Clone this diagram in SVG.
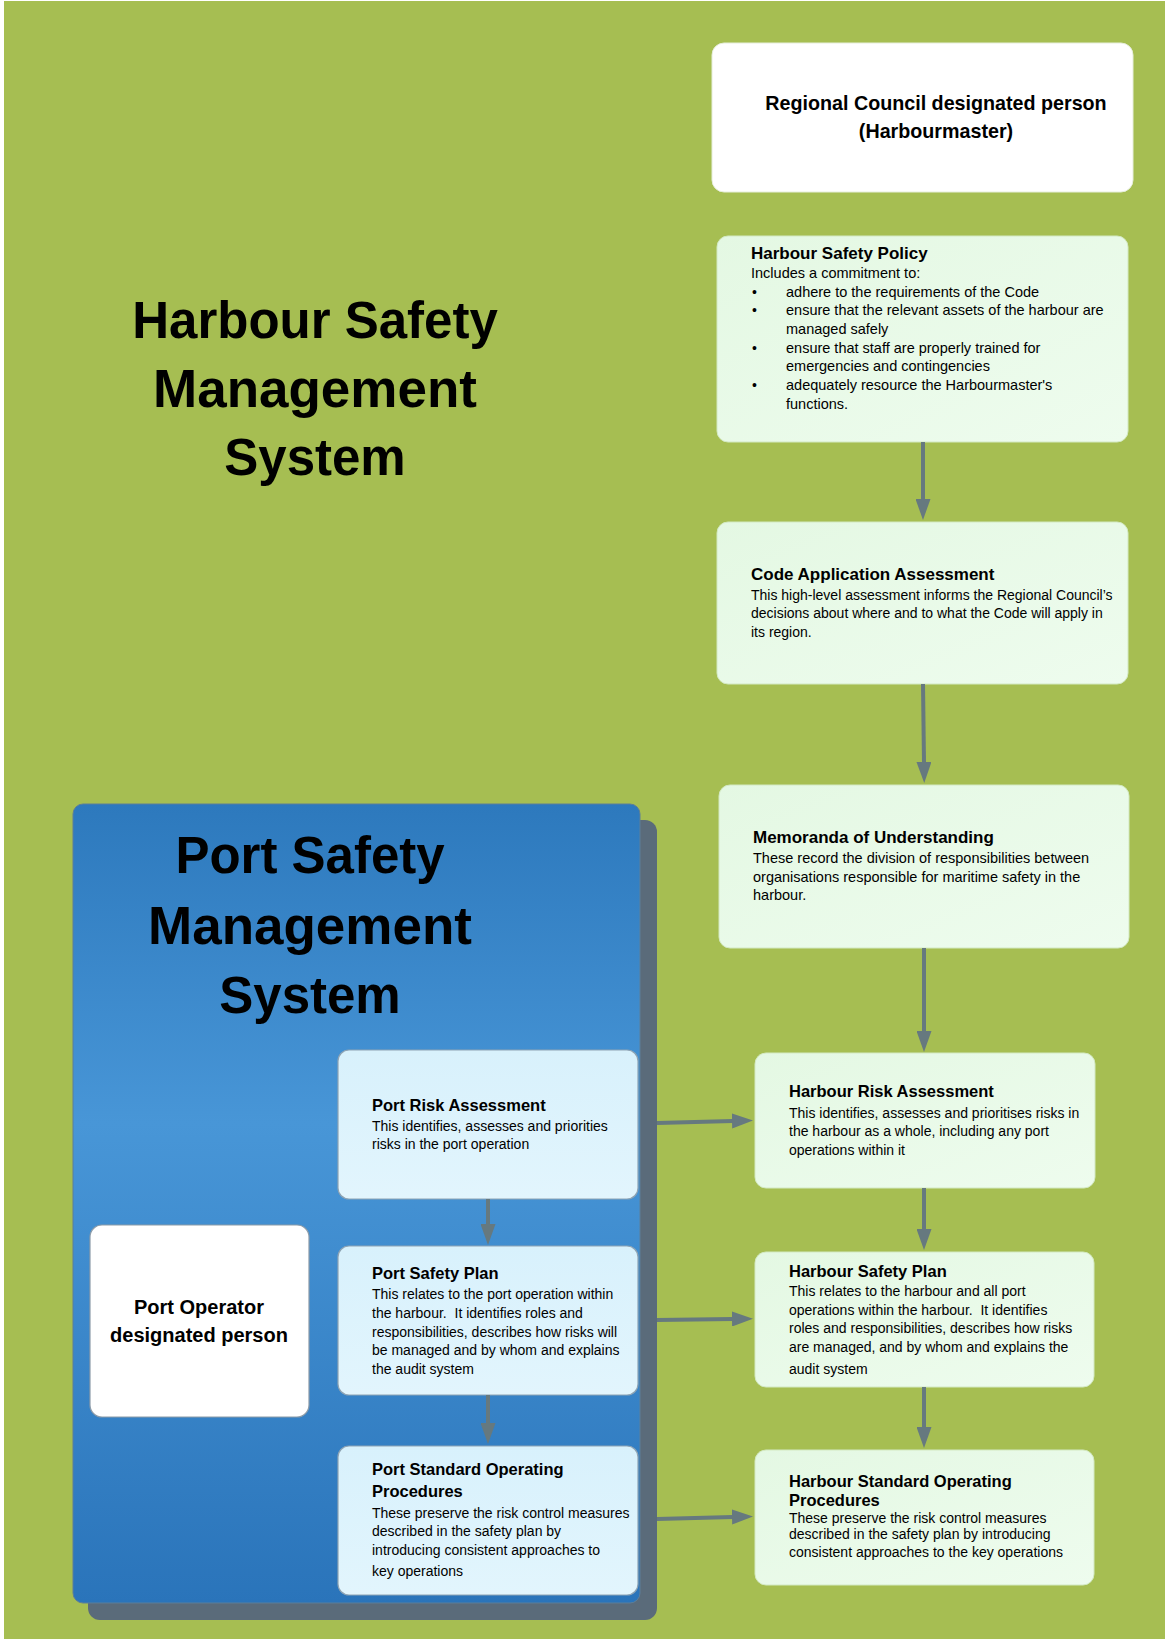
<svg xmlns="http://www.w3.org/2000/svg" width="1165" height="1639" viewBox="0 0 1165 1639">
  <defs>
    <linearGradient id="panelBlue" x1="0" y1="0" x2="0" y2="1">
      <stop offset="0" stop-color="#2d79bd"/>
      <stop offset="0.4" stop-color="#4896d7"/>
      <stop offset="1" stop-color="#2a74ba"/>
    </linearGradient>
    <linearGradient id="portFill" x1="0" y1="0" x2="0" y2="1">
      <stop offset="0" stop-color="#d8f1fc"/>
      <stop offset="1" stop-color="#e2f5fd"/>
    </linearGradient>
    <linearGradient id="harbourFill" x1="0" y1="0" x2="1" y2="1">
      <stop offset="0" stop-color="#e4f8e3"/>
      <stop offset="1" stop-color="#eefcee"/>
    </linearGradient>
    <marker id="arrow" markerUnits="userSpaceOnUse" markerWidth="21" markerHeight="15" viewBox="0 0 21 15" refX="1" refY="7.5" orient="auto">
      <path d="M0,0 L21,7.5 L0,15 Z" fill="#66797f"/>
    </marker>
    <style>
      text { font-family: "Liberation Sans", Arial, sans-serif; fill: #000; white-space: pre; }
      .big { font-size: 51px; font-weight: bold; text-anchor: middle; }
      .person { font-size: 20px; font-weight: bold; text-anchor: middle; }
      .title { font-size: 16.5px; font-weight: bold; }
      .title-lg { font-size: 17px; font-weight: bold; }
      .body { font-size: 14px; }
      .body-lg { font-size: 14.5px; }
      .harbour { fill: url(#harbourFill); stroke: #d3e9c2; stroke-width: 1; }
      .port { fill: url(#portFill); stroke: #8ea3b3; stroke-width: 1.2; }
      .white { fill: #ffffff; stroke: #8c9ba8; stroke-width: 1.2; }
      .conn { stroke: #66797f; stroke-width: 4; fill: none; marker-end: url(#arrow); }
    </style>
  </defs>

  <!-- page background -->
  <rect x="0" y="0" width="1165" height="1639" fill="#ffffff"/>
  <rect x="4" y="1" width="1161" height="1638" fill="#a6be52"/>

  <!-- heading for the harbour system -->
  <g id="harbour-sms-heading">
    <text class="big" x="315" y="338">Harbour Safety</text>
    <text class="big" x="315" y="407" style="font-size:53px">Management</text>
    <text class="big" x="315" y="475">System</text>
  </g>

  <!-- port system panel with its drop shadow -->
  <g id="port-sms">
    <rect x="88" y="820" width="569" height="800" rx="12" fill="#5a6b7a"/>
    <rect x="73" y="804" width="567" height="799" rx="10" fill="url(#panelBlue)" stroke="#5d7e98" stroke-width="1"/>
    <text class="big" x="310" y="873">Port Safety</text>
    <text class="big" x="310" y="944" style="font-size:53px">Management</text>
    <text class="big" x="310" y="1013">System</text>
  </g>

  <g id="regional-council">
    <rect x="712" y="43" width="421" height="149" rx="12" fill="#ffffff" stroke="#e6eedb" stroke-width="1"/>
    <text class="person" x="936" y="110" style="font-size:19.7px">Regional Council designated person</text>
    <text class="person" x="936" y="138" style="font-size:19.7px">(Harbourmaster)</text>
  </g>

  <g id="harbour-safety-policy">
    <rect class="harbour" x="717" y="236" width="411" height="206" rx="11"/>
    <text class="title-lg" x="751" y="259">Harbour Safety Policy</text>
    <text class="body-lg" x="751" y="278">Includes a commitment to:</text>
    <text class="body" x="752" y="297">•</text>
    <text class="body-lg" x="786" y="297">adhere to the requirements of the Code</text>
    <text class="body" x="752" y="315">•</text>
    <text class="body-lg" x="786" y="315">ensure that the relevant assets of the harbour are</text>
    <text class="body-lg" x="786" y="334">managed safely</text>
    <text class="body" x="752" y="353">•</text>
    <text class="body-lg" x="786" y="353">ensure that staff are properly trained for</text>
    <text class="body-lg" x="786" y="371">emergencies and contingencies</text>
    <text class="body" x="752" y="390">•</text>
    <text class="body-lg" x="786" y="390">adequately resource the Harbourmaster's</text>
    <text class="body-lg" x="786" y="409">functions.</text>
  </g>

  <g id="code-application-assessment">
    <rect class="harbour" x="717" y="522" width="411" height="162" rx="11"/>
    <text class="title-lg" x="751" y="580">Code Application Assessment</text>
    <text class="body" x="751" y="600">This high-level assessment informs the Regional Council’s</text>
    <text class="body" x="751" y="618">decisions about where and to what the Code will apply in</text>
    <text class="body" x="751" y="637">its region.</text>
  </g>

  <g id="memoranda-of-understanding">
    <rect class="harbour" x="719" y="785" width="410" height="163" rx="11"/>
    <text class="title-lg" x="753" y="843">Memoranda of Understanding</text>
    <text class="body-lg" x="753" y="863">These record the division of responsibilities between</text>
    <text class="body-lg" x="753" y="882">organisations responsible for maritime safety in the</text>
    <text class="body-lg" x="753" y="900">harbour.</text>
  </g>

  <g id="harbour-risk-assessment">
    <rect class="harbour" x="755" y="1053" width="340" height="135" rx="11"/>
    <text class="title" x="789" y="1097">Harbour Risk Assessment</text>
    <text class="body" x="789" y="1118">This identifies, assesses and prioritises risks in</text>
    <text class="body" x="789" y="1136">the harbour as a whole, including any port</text>
    <text class="body" x="789" y="1155">operations within it</text>
  </g>

  <g id="harbour-safety-plan">
    <rect class="harbour" x="755" y="1252" width="339" height="135" rx="11"/>
    <text class="title" x="789" y="1277">Harbour Safety Plan</text>
    <text class="body" x="789" y="1296">This relates to the harbour and all port</text>
    <text class="body" x="789" y="1315" xml:space="preserve">operations within the harbour.  It identifies</text>
    <text class="body" x="789" y="1333">roles and responsibilities, describes how risks</text>
    <text class="body" x="789" y="1352">are managed, and by whom and explains the</text>
    <text class="body" x="789" y="1374">audit system</text>
  </g>

  <g id="harbour-sop">
    <rect class="harbour" x="755" y="1450" width="339" height="135" rx="11"/>
    <text class="title" x="789" y="1487">Harbour Standard Operating</text>
    <text class="title" x="789" y="1506">Procedures</text>
    <text class="body" x="789" y="1523">These preserve the risk control measures</text>
    <text class="body" x="789" y="1539">described in the safety plan by introducing</text>
    <text class="body" x="789" y="1557">consistent approaches to the key operations</text>
  </g>

  <g id="port-risk-assessment">
    <rect class="port" x="338" y="1050" width="300" height="149" rx="11"/>
    <text class="title" x="372" y="1111">Port Risk Assessment</text>
    <text class="body" x="372" y="1131">This identifies, assesses and priorities</text>
    <text class="body" x="372" y="1149">risks in the port operation</text>
  </g>

  <g id="port-safety-plan">
    <rect class="port" x="338" y="1246" width="300" height="149" rx="11"/>
    <text class="title" x="372" y="1279">Port Safety Plan</text>
    <text class="body" x="372" y="1299">This relates to the port operation within</text>
    <text class="body" x="372" y="1318" xml:space="preserve">the harbour.  It identifies roles and</text>
    <text class="body" x="372" y="1337">responsibilities, describes how risks will</text>
    <text class="body" x="372" y="1355">be managed and by whom and explains</text>
    <text class="body" x="372" y="1374">the audit system</text>
  </g>

  <g id="port-sop">
    <rect class="port" x="338" y="1446" width="300" height="149" rx="11"/>
    <text class="title" x="372" y="1475">Port Standard Operating</text>
    <text class="title" x="372" y="1497">Procedures</text>
    <text class="body" x="372" y="1518">These preserve the risk control measures</text>
    <text class="body" x="372" y="1536">described in the safety plan by</text>
    <text class="body" x="372" y="1555">introducing consistent approaches to</text>
    <text class="body" x="372" y="1576">key operations</text>
  </g>

  <g id="port-operator">
    <rect class="white" x="90" y="1225" width="219" height="192" rx="12"/>
    <text class="person" x="199" y="1314">Port Operator</text>
    <text class="person" x="199" y="1342">designated person</text>
  </g>

  <!-- connectors: each path ends at the arrowhead base -->
  <g id="connectors">
    <path class="conn" d="M923,442 L923,500"/>
    <path class="conn" d="M923,684 L924,763"/>
    <path class="conn" d="M924,948 L924,1032"/>
    <path class="conn" d="M924,1188 L924,1230"/>
    <path class="conn" d="M924,1387 L924,1428"/>
    <path class="conn" d="M488,1199 L488,1225"/>
    <path class="conn" d="M488,1395 L488,1424"/>
    <path class="conn" d="M657,1123 L733,1121"/>
    <path class="conn" d="M657,1320 L733,1319"/>
    <path class="conn" d="M657,1519 L733,1517"/>
  </g>
</svg>
